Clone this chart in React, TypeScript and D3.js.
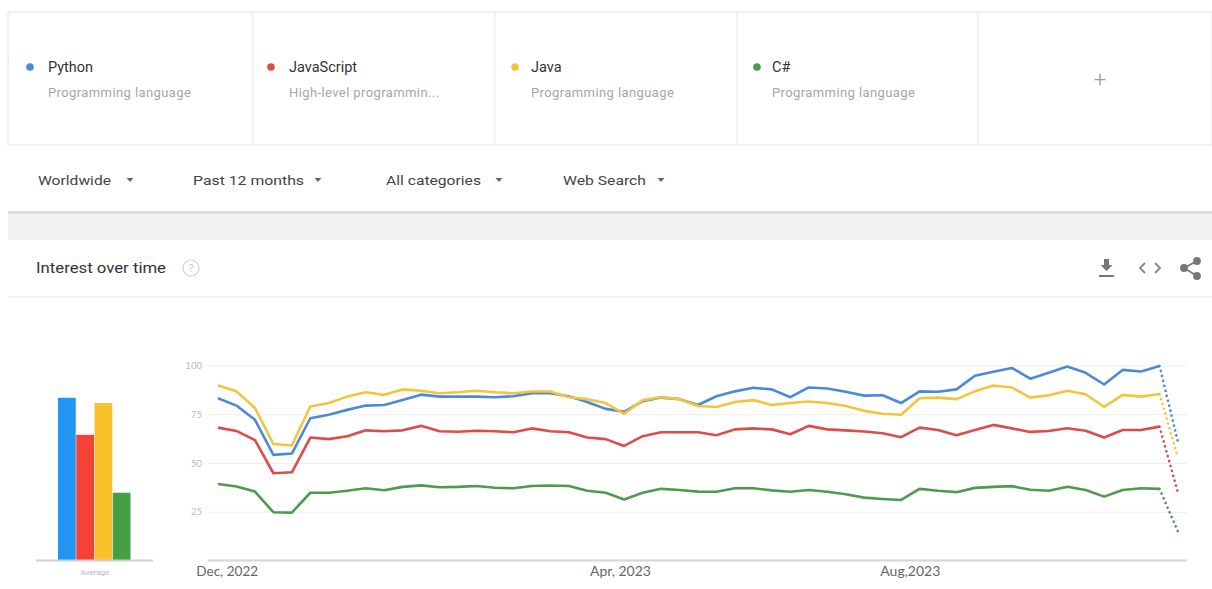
import React from "react";
import * as d3 from "d3";

const seriesNames = ["Python", "JavaScript", "Java", "C#"];
const seriesSubs = ["Programming language", "High-level programmin...", "Programming language", "Programming language"];
const lineColors = ["#4a8ad8", "#de4b4b", "#f2c53d", "#4f9a4f"];
const barColors = ["#2196f3", "#f44336", "#fbc02d", "#43a047"];

const python = [83.5, 79.7, 72.4, 54.4, 55.1, 73.2, 75, 77.5, 79.7, 80, 82.6, 85.3, 84.3, 84.3, 84.3, 84, 84.5, 86, 86, 84.5, 81.5, 78, 76.5, 82, 83.8, 83, 80, 84.5, 87, 88.8, 88, 84, 89, 88.5, 86.8, 84.8, 85, 81, 87, 86.8, 88, 95, 97, 99, 93.5, 96.5, 99.7, 96.5, 90.5, 98, 97.2, 100, 61];
const javascript = [68.4, 66.7, 62, 45, 45.5, 63.3, 62.5, 64, 67, 66.5, 67, 69.3, 66.5, 66.3, 66.8, 66.5, 66, 68, 66.5, 66, 63.3, 62.5, 59, 64, 66, 66, 66, 64.5, 67.5, 68, 67.5, 65, 69.3, 67.5, 67, 66.4, 65.5, 63.5, 68.4, 67.2, 64.5, 67.2, 69.8, 68, 66.2, 66.7, 68.1, 66.8, 63.3, 67.2, 67.2, 68.9, 35];
const java = [90, 87, 78.5, 60, 59.2, 79.2, 81, 84.3, 86.5, 85.2, 88, 87.3, 86, 86.5, 87.3, 86.5, 86, 86.9, 86.9, 84, 83, 81, 75.5, 82.5, 84, 83, 79.5, 79, 81.5, 82.5, 80, 81, 81.8, 81, 79.5, 77, 75.5, 75, 83.5, 83.8, 83, 87, 90, 89, 83.8, 85, 87.3, 85.5, 79, 85.2, 84.3, 85.6, 53];
const csharp = [39.5, 38.2, 35.6, 25, 24.8, 35, 35, 36, 37.3, 36.3, 38, 38.8, 37.8, 38, 38.5, 37.6, 37.3, 38.5, 38.7, 38.5, 36, 35, 31.5, 35, 37, 36.4, 35.6, 35.5, 37.3, 37.3, 36.2, 35.5, 36.4, 35.5, 34.2, 32.5, 31.8, 31.3, 37, 36, 35.3, 37.5, 38, 38.4, 36.5, 36, 38.1, 36.4, 33, 36.4, 37.3, 37, 15];
const averages = [83.7, 64.7, 81, 35];
const yTicks = [25, 50, 75, 100];
const xTickLabels = ["Dec, 2022", "Apr, 2023", "Aug,2023"];
const xTickIndex = [0.5, 21.8, 37.5];
const filters = ["Worldwide", "Past 12 months", "All categories", "Web Search"];

const allSeries = [python, javascript, java, csharp];

export default function App() {
  const W = 1212, H = 589;
  const n = python.length;
  const x = d3.scaleLinear().domain([0, n - 1]).range([218, 1178]);
  const y = d3.scaleLinear().domain([0, 100]).range([561, 366]);
  const bx = d3.scaleBand().domain(seriesNames).range([58, 131]).padding(0);
  const line = d3.line<number>().x((_, i) => x(i)).y((d) => y(d));
  const font = "Roboto, 'Noto Sans', Arial, sans-serif";

  const cardDividers = [253, 495, 737, 978];
  const cardDotX = [30, 271, 515, 757];
  const cardTextX = [48, 289, 531, 772];
  const filterX = [38, 193, 386, 563];
  const filterW = [73, 111, 95, 83];
  const arrowX = [130, 318, 499, 661];
  const xLabelW = [62, 61, 60];

  return (
    <svg width={W} height={H} style={{ position: "absolute", left: 0, top: 0, background: "#fff" }} fontFamily={font}>
      <rect x={0} y={0} width={W} height={H} fill="#fff" />
      {/* cards */}
      <rect x={8} y={12} width={W - 8} height={133} fill="#fff" stroke="#e6e6e6" strokeWidth={1.2} />
      {cardDividers.map((d) => (
        <line key={d} x1={d} x2={d} y1={12} y2={145} stroke="#ececec" strokeWidth={1.2} />
      ))}
      {seriesNames.map((s, i) => (
        <g key={s}>
          <circle cx={cardDotX[i]} cy={67} r={3.8} fill={lineColors[i]} />
          <text x={cardTextX[i]} y={72} fontSize={14.5} fill="#333">{s}</text>
          <text x={cardTextX[i]} y={97} fontSize={13} fill="#a6a6a6" letterSpacing={0.4}>{seriesSubs[i]}</text>
        </g>
      ))}
      <text x={1100} y={87} fontSize={22} fill="#999" textAnchor="middle" fontWeight={300}>+</text>

      {/* filters */}
      {filters.map((f, i) => (
        <g key={f}>
          <text x={filterX[i]} y={185} fontSize={13.5} fill="#444" textLength={filterW[i]} lengthAdjust="spacingAndGlyphs">{f}</text>
          <path d={`M${arrowX[i] - 3.5},${178} L${arrowX[i] + 3.5},${178} L${arrowX[i]},${182} Z`} fill="#666" />
        </g>
      ))}

      {/* gray band */}
      <rect x={8} y={212} width={W - 8} height={28} fill="#f2f2f2" />
      <rect x={8} y={211} width={W - 8} height={3} fill="#dedede" />

      {/* interest over time header */}
      <text x={36} y={273} fontSize={14} fill="#333" textLength={130} lengthAdjust="spacingAndGlyphs">Interest over time</text>
      <circle cx={191} cy={268} r={8} fill="none" stroke="#d0d0d0" strokeWidth={1.2} />
      <text x={191} y={272} fontSize={10} fill="#c8c8c8" textAnchor="middle">?</text>
      {/* download icon */}
      <g fill="#777">
        <path d="M1104,259 h5 v6 h3.5 l-6,6 l-6,-6 h3.5 z" />
        <rect x={1099} y={275} width={15} height={2} />
      </g>
      {/* embed icon */}
      <g fill="none" stroke="#888" strokeWidth={1.8}>
        <path d="M1145,263 l-5,5 l5,5" />
        <path d="M1155,263 l5,5 l-5,5" />
      </g>
      {/* share icon */}
      <g fill="#777" stroke="#777" strokeWidth={1.8}>
        <line x1={1197} y1={261} x2={1184} y2={268} />
        <line x1={1184} y1={268} x2={1197} y2={276} />
        <circle cx={1197} cy={261} r={3} />
        <circle cx={1184} cy={268} r={3} />
        <circle cx={1197} cy={276} r={3} />
      </g>
      <line x1={8} x2={W} y1={297} y2={297} stroke="#ececec" strokeWidth={1.5} />

      {/* bar chart */}
      {averages.map((v, i) => (
        <rect key={i} x={bx(seriesNames[i])} y={y(v)} width={bx.bandwidth() - 0.5} height={y(0) - y(v)} fill={barColors[i]} />
      ))}
      <line x1={36} x2={153} y1={560.5} y2={560.5} stroke="#cfcfcf" strokeWidth={2} />
      <text x={95} y={575} fontSize={8} fill="#b9b3d6" textAnchor="middle">Average</text>

      {/* grid */}
      {yTicks.map((t) => (
        <g key={t}>
          <line x1={208} x2={1187} y1={y(t)} y2={y(t)} stroke="#ededed" strokeWidth={1.2} />
          <text x={202} y={y(t) + 3} fontSize={9.5} fill="#bbb" textAnchor="end" fontFamily="Lato, sans-serif">{t}</text>
        </g>
      ))}
      <line x1={208} x2={1187} y1={560.5} y2={560.5} stroke="#d6d6d6" strokeWidth={2} />
      {xTickLabels.map((l, i) => (
        <text key={l} x={x(xTickIndex[i])} y={576} fontSize={13} fill="#666" textAnchor="middle" fontFamily="Lato, 'Open Sans', sans-serif" textLength={xLabelW[i]} lengthAdjust="spacingAndGlyphs">{l}</text>
      ))}

      {/* lines */}
      {allSeries.map((s, i) => (
        <g key={i}>
          <path d={line(s.slice(0, n - 1)) || ""} fill="none" stroke={lineColors[i]} strokeWidth={2.6} strokeLinejoin="round" />
          <path
            d={d3.line<number>().x((_, j) => x(n - 2 + j)).y((d) => y(d))(s.slice(n - 2)) || ""}
            fill="none"
            stroke={lineColors[i]}
            strokeWidth={2.6}
            strokeDasharray="0.1,5"
            strokeLinecap="round"
          />
        </g>
      ))}
    </svg>
  );
}
